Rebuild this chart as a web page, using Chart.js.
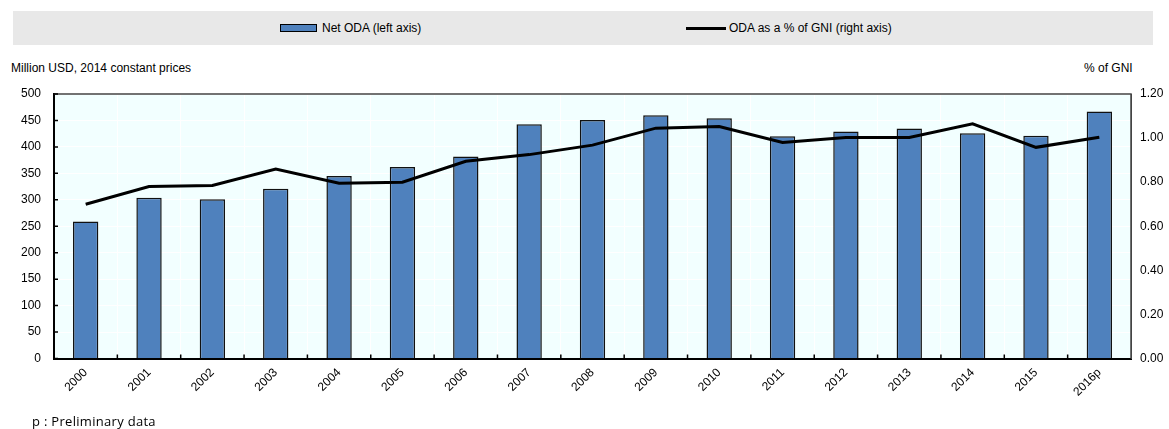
<!DOCTYPE html>
<html>
<head>
<meta charset="utf-8">
<script src="https://cdn.jsdelivr.net/npm/chart.js@4/dist/chart.umd.min.js"></script>
<style>
  body { margin: 0; background: #fff; }
  #wrap { position: relative; width: 1169px; height: 429px; overflow: hidden;
    font-family: "Liberation Sans Narrow", "Arial Narrow", "Liberation Sans", sans-serif; color: #000; }
  #legend { position: absolute; left: 13px; top: 11px; width: 1140px; height: 34px; background: #e8e8e8; }
  .lg { position: absolute; top: 0; height: 34px; line-height: 34px; font-size: 12px; white-space: nowrap; }
  .sw-bar { position: absolute; left: 267px; top: 13px; width: 35px; height: 6px; background: #4f81bd; border: 1.5px solid #000; }
  .sw-line { position: absolute; left: 673px; top: 16px; width: 40px; height: 3px; background: #000; }
  .t { position: absolute; font-size: 12px; white-space: nowrap; }
  #note { position: absolute; left: 32px; top: 412px; font-family: "Open Sans", "Lato", sans-serif; font-size: 13px; letter-spacing: 0.3px; }
  canvas { position: absolute; left: 0; top: 0; }
</style>
</head>
<body>
<div id="wrap">
  <div id="legend">
    <div class="sw-bar"></div>
    <div class="lg" style="left:309px">Net ODA (left axis)</div>
    <div class="sw-line"></div>
    <div class="lg" style="left:716px">ODA as a % of GNI (right axis)</div>
  </div>
  <div class="t" style="left:11px; top:61px">Million USD, 2014 constant prices</div>
  <div class="t" style="left:1084px; top:61px">% of GNI</div>
  <canvas id="c" width="1169" height="429"></canvas>
  <div id="note">p : Preliminary data</div>
</div>
<script>
const years = ["2000", "2001", "2002", "2003", "2004", "2005", "2006", "2007", "2008",
  "2009", "2010", "2011", "2012", "2013", "2014", "2015", "2016p"];
const netOda = [259, 304, 301, 321, 345, 362, 382, 443, 451, 460, 454, 420, 429, 435, 426, 421, 467];
const odaGni = [0.70, 0.78, 0.785, 0.86, 0.795, 0.80, 0.895, 0.925, 0.968, 1.045, 1.052, 0.98, 1.003, 1.003, 1.065, 0.958, 1.004];

const FONT = "'Liberation Sans Narrow', 'Arial Narrow', 'Liberation Sans', sans-serif";

// fond de la zone de tracé + bordure haute/droite + petites graduations
const plotFrame = {
  id: "plotFrame",
  beforeDraw(chart) {
    const { ctx, chartArea: a } = chart;
    ctx.save();
    ctx.fillStyle = "#f2ffff";
    ctx.fillRect(a.left, a.top, a.right - a.left, a.bottom - a.top);
    ctx.restore();
  },
  afterDatasetsDraw(chart) {
    const { ctx, chartArea: a, scales } = chart;
    ctx.save();
    ctx.strokeStyle = "#444";
    ctx.lineWidth = 1.5;
    ctx.beginPath();
    ctx.moveTo(a.left, a.top);
    ctx.lineTo(a.right, a.top);
    ctx.lineTo(a.right, a.bottom);
    ctx.stroke();
    ctx.strokeStyle = "#000";
    ctx.lineWidth = 1.5;
    ctx.beginPath();
    const x = scales.x;
    for (let i = 1; i < years.length; i++) {
      const px = (x.getPixelForValue(i - 1) + x.getPixelForValue(i)) / 2;
      ctx.moveTo(px, a.bottom);
      ctx.lineTo(px, a.bottom - 4);
    }
    scales.y.ticks.forEach((t, i) => {
      const py = scales.y.getPixelForTick(i);
      ctx.moveTo(a.left, py);
      ctx.lineTo(a.left + 4, py);
    });
    ctx.stroke();
    ctx.restore();
  }
};

new Chart(document.getElementById("c"), {
  data: {
    labels: years,
    datasets: [
      {
        type: "line",
        label: "ODA as a % of GNI (right axis)",
        data: odaGni,
        yAxisID: "y2",
        borderColor: "#000",
        borderWidth: 3,
        pointRadius: 0,
        tension: 0,
        order: 0
      },
      {
        type: "bar",
        label: "Net ODA (left axis)",
        data: netOda,
        yAxisID: "y",
        backgroundColor: "#4f81bd",
        borderColor: "#111",
        borderWidth: 1.5,
        barPercentage: 0.4,
        categoryPercentage: 1,
        order: 1
      }
    ]
  },
  options: {
    responsive: false,
    animation: false,
    layout: { padding: { top: 94, left: 0, right: 0, bottom: 0 } },
    plugins: { legend: { display: false }, tooltip: { enabled: false } },
    scales: {
      x: {
        offset: true,
        grid: { color: "#ffffff", lineWidth: 1, offset: true, drawTicks: false },
        border: { color: "#000", width: 2 },
        ticks: { color: "#000", font: { family: FONT, size: 12 }, maxRotation: 45, minRotation: 45, padding: 7 },
        afterFit: (s) => { s.height = 70.5; }
      },
      y: {
        position: "left",
        min: 0, max: 500,
        grid: { color: "#ffffff", lineWidth: 1, drawTicks: false },
        border: { color: "#000", width: 2 },
        ticks: { stepSize: 50, color: "#000", font: { family: FONT, size: 12 }, padding: 13 },
        afterFit: (s) => { s.width = 54; }
      },
      y2: {
        position: "right",
        min: 0, max: 1.2,
        grid: { display: false, drawTicks: false },
        border: { color: "#444", width: 1 },
        ticks: { stepSize: 0.2, color: "#000", font: { family: FONT, size: 12 }, padding: 9,
          callback: (v) => v.toFixed(2) },
        afterFit: (s) => { s.width = 38; }
      }
    }
  },
  plugins: [plotFrame]
});
</script>
</body>
</html>
